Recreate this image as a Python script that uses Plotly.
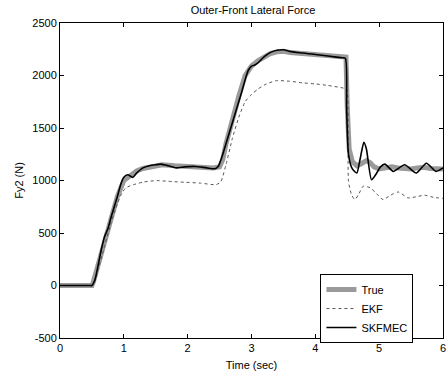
import plotly.graph_objects as go

# ---- data ----
t_true = [0, 0.5, 0.52, 0.6, 0.7, 0.8, 0.9, 1.0, 1.1, 1.2, 1.3, 1.4, 1.5, 1.6, 1.8, 2.0, 2.2, 2.4, 2.5,
          2.55, 2.6, 2.7, 2.8, 2.9, 3.0, 3.1, 3.2, 3.3, 3.4, 3.5, 3.6, 3.8, 4.0, 4.2, 4.4, 4.48,
          4.5, 4.53, 4.58, 4.65, 4.72, 4.8, 4.86, 4.92, 5.0, 5.1, 5.2, 5.3, 5.4, 5.5, 5.6, 5.7, 5.8, 5.9, 6.0]
v_true = [0, 0, 30, 200, 420, 640, 850, 1000, 1050, 1090, 1115, 1130, 1145, 1150, 1140, 1130, 1125, 1120, 1130,
          1200, 1350, 1600, 1800, 2000, 2090, 2140, 2180, 2210, 2225, 2230, 2220, 2210, 2200, 2190, 2180, 2175,
          1700, 1300, 1180, 1140, 1160, 1190, 1170, 1130, 1110, 1120, 1130, 1120, 1115, 1110, 1120, 1125, 1115, 1110, 1110]

t_ekf = [0, 0.3, 0.46, 0.5, 0.55, 0.6, 0.7, 0.8, 0.9, 0.97, 1.03, 1.1, 1.19, 1.3, 1.52, 1.75, 1.96, 2.2, 2.45, 2.52,
         2.6, 2.7, 2.8, 2.9, 3.0, 3.1, 3.2, 3.38, 3.6, 3.8, 4.0, 4.2, 4.44, 4.49,
         4.52, 4.57, 4.62, 4.68, 4.75, 4.86, 4.95, 5.06, 5.18, 5.3, 5.45, 5.58, 5.71, 5.85, 6.0]
v_ekf = [0, 0, 0, 0, 40, 160, 380, 600, 780, 880, 929, 950, 967, 985, 999, 990, 983, 975, 961, 990,
         1150, 1400, 1600, 1750, 1820, 1870, 1910, 1950, 1945, 1930, 1920, 1905, 1880, 1870,
         990, 860, 819, 870, 945, 930, 880, 819, 860, 891, 835, 845, 860, 840, 830]

t_skf = [0, 0.3, 0.46, 0.5, 0.55, 0.6, 0.65, 0.7, 0.75, 0.8, 0.9, 0.95, 1.0, 1.06, 1.14, 1.2, 1.3, 1.4, 1.5, 1.58,
         1.7, 1.82, 1.95, 2.12, 2.3, 2.43, 2.48, 2.55, 2.6, 2.7, 2.8, 2.85, 2.9, 2.95, 3.0, 3.05,
         3.1, 3.2, 3.3, 3.4, 3.5, 3.6, 3.7, 3.8, 4.0, 4.2, 4.4, 4.47,
         4.49, 4.52, 4.58, 4.65, 4.7, 4.76, 4.8, 4.88, 4.95, 5.02, 5.09, 5.22, 5.4, 5.58, 5.74, 5.89, 6.0]
v_skf = [0, 0, 0, 0, 60, 200, 350, 470, 540, 650, 850, 960, 1030, 1055, 1030, 1070, 1120, 1140, 1150, 1156,
         1140, 1120, 1130, 1134, 1120, 1112, 1135, 1250, 1350, 1550, 1750, 1850, 1960, 2050, 2090, 2100,
         2120, 2180, 2220, 2240, 2245, 2230, 2220, 2215, 2200, 2185, 2170, 2165,
         1700, 1245, 1110, 1071, 1200, 1364, 1300, 1008, 1060, 1130, 1156, 1087, 1150, 1071, 1165, 1087, 1120]

x_ticks = [0, 1, 2, 3, 4, 5, 6]
y_ticks = [-500, 0, 500, 1000, 1500, 2000, 2500]
y_tick_text = ["-500", "0", "500", "1000", "1500", "2000", "2500"]

fig = go.Figure()
fig.add_trace(go.Scatter(x=t_true, y=v_true, mode="lines", name="True",
                         line=dict(color="#9a9a9a", width=5)))
fig.add_trace(go.Scatter(x=t_ekf, y=v_ekf, mode="lines", name="EKF",
                         line=dict(color="#555555", width=1, dash="dot", shape="spline", smoothing=0.6)))
fig.add_trace(go.Scatter(x=t_skf, y=v_skf, mode="lines", name="SKFMEC",
                         line=dict(color="black", width=1.6, shape="spline", smoothing=0.6)))

font = dict(family="Liberation Sans, Arial, sans-serif", size=11, color="black")
axis_common = dict(showgrid=False, zeroline=False, showline=True, linecolor="black", linewidth=1,
                   mirror="ticks", ticks="inside", ticklen=4, tickcolor="black", tickfont=font,
                   ticklabeloverflow="allow", automargin=False)

fig.update_layout(
    width=447, height=375,
    margin=dict(l=60, r=4, t=23, b=37, autoexpand=False),
    paper_bgcolor="white", plot_bgcolor="white",
    font=font,
    title=dict(text="Outer-Front Lateral Force", x=0.566, xanchor="center", y=0.973, yanchor="middle",
               font=dict(family="Liberation Sans, Arial, sans-serif", size=11, color="black")),
    xaxis=dict(range=[0, 6], tickvals=x_ticks, title=dict(text="Time (sec)", standoff=8, font=font),
               **axis_common),
    yaxis=dict(range=[-500, 2500], tickvals=y_ticks, ticktext=y_tick_text,
               title=dict(text="Fy2 (N)", standoff=6, font=font), **axis_common),
    legend=dict(x=0.68, y=0.203, xanchor="left", yanchor="top", bgcolor="white",
                bordercolor="black", borderwidth=1, font=dict(family="Liberation Sans, Arial, sans-serif",
                size=11, color="black"), tracegroupgap=0, itemwidth=30),
    showlegend=True,
)

fig.write_html("out.html", config={"displayModeBar": False},
               post_script="document.body.style.margin='0px';document.body.style.overflow='hidden';")
